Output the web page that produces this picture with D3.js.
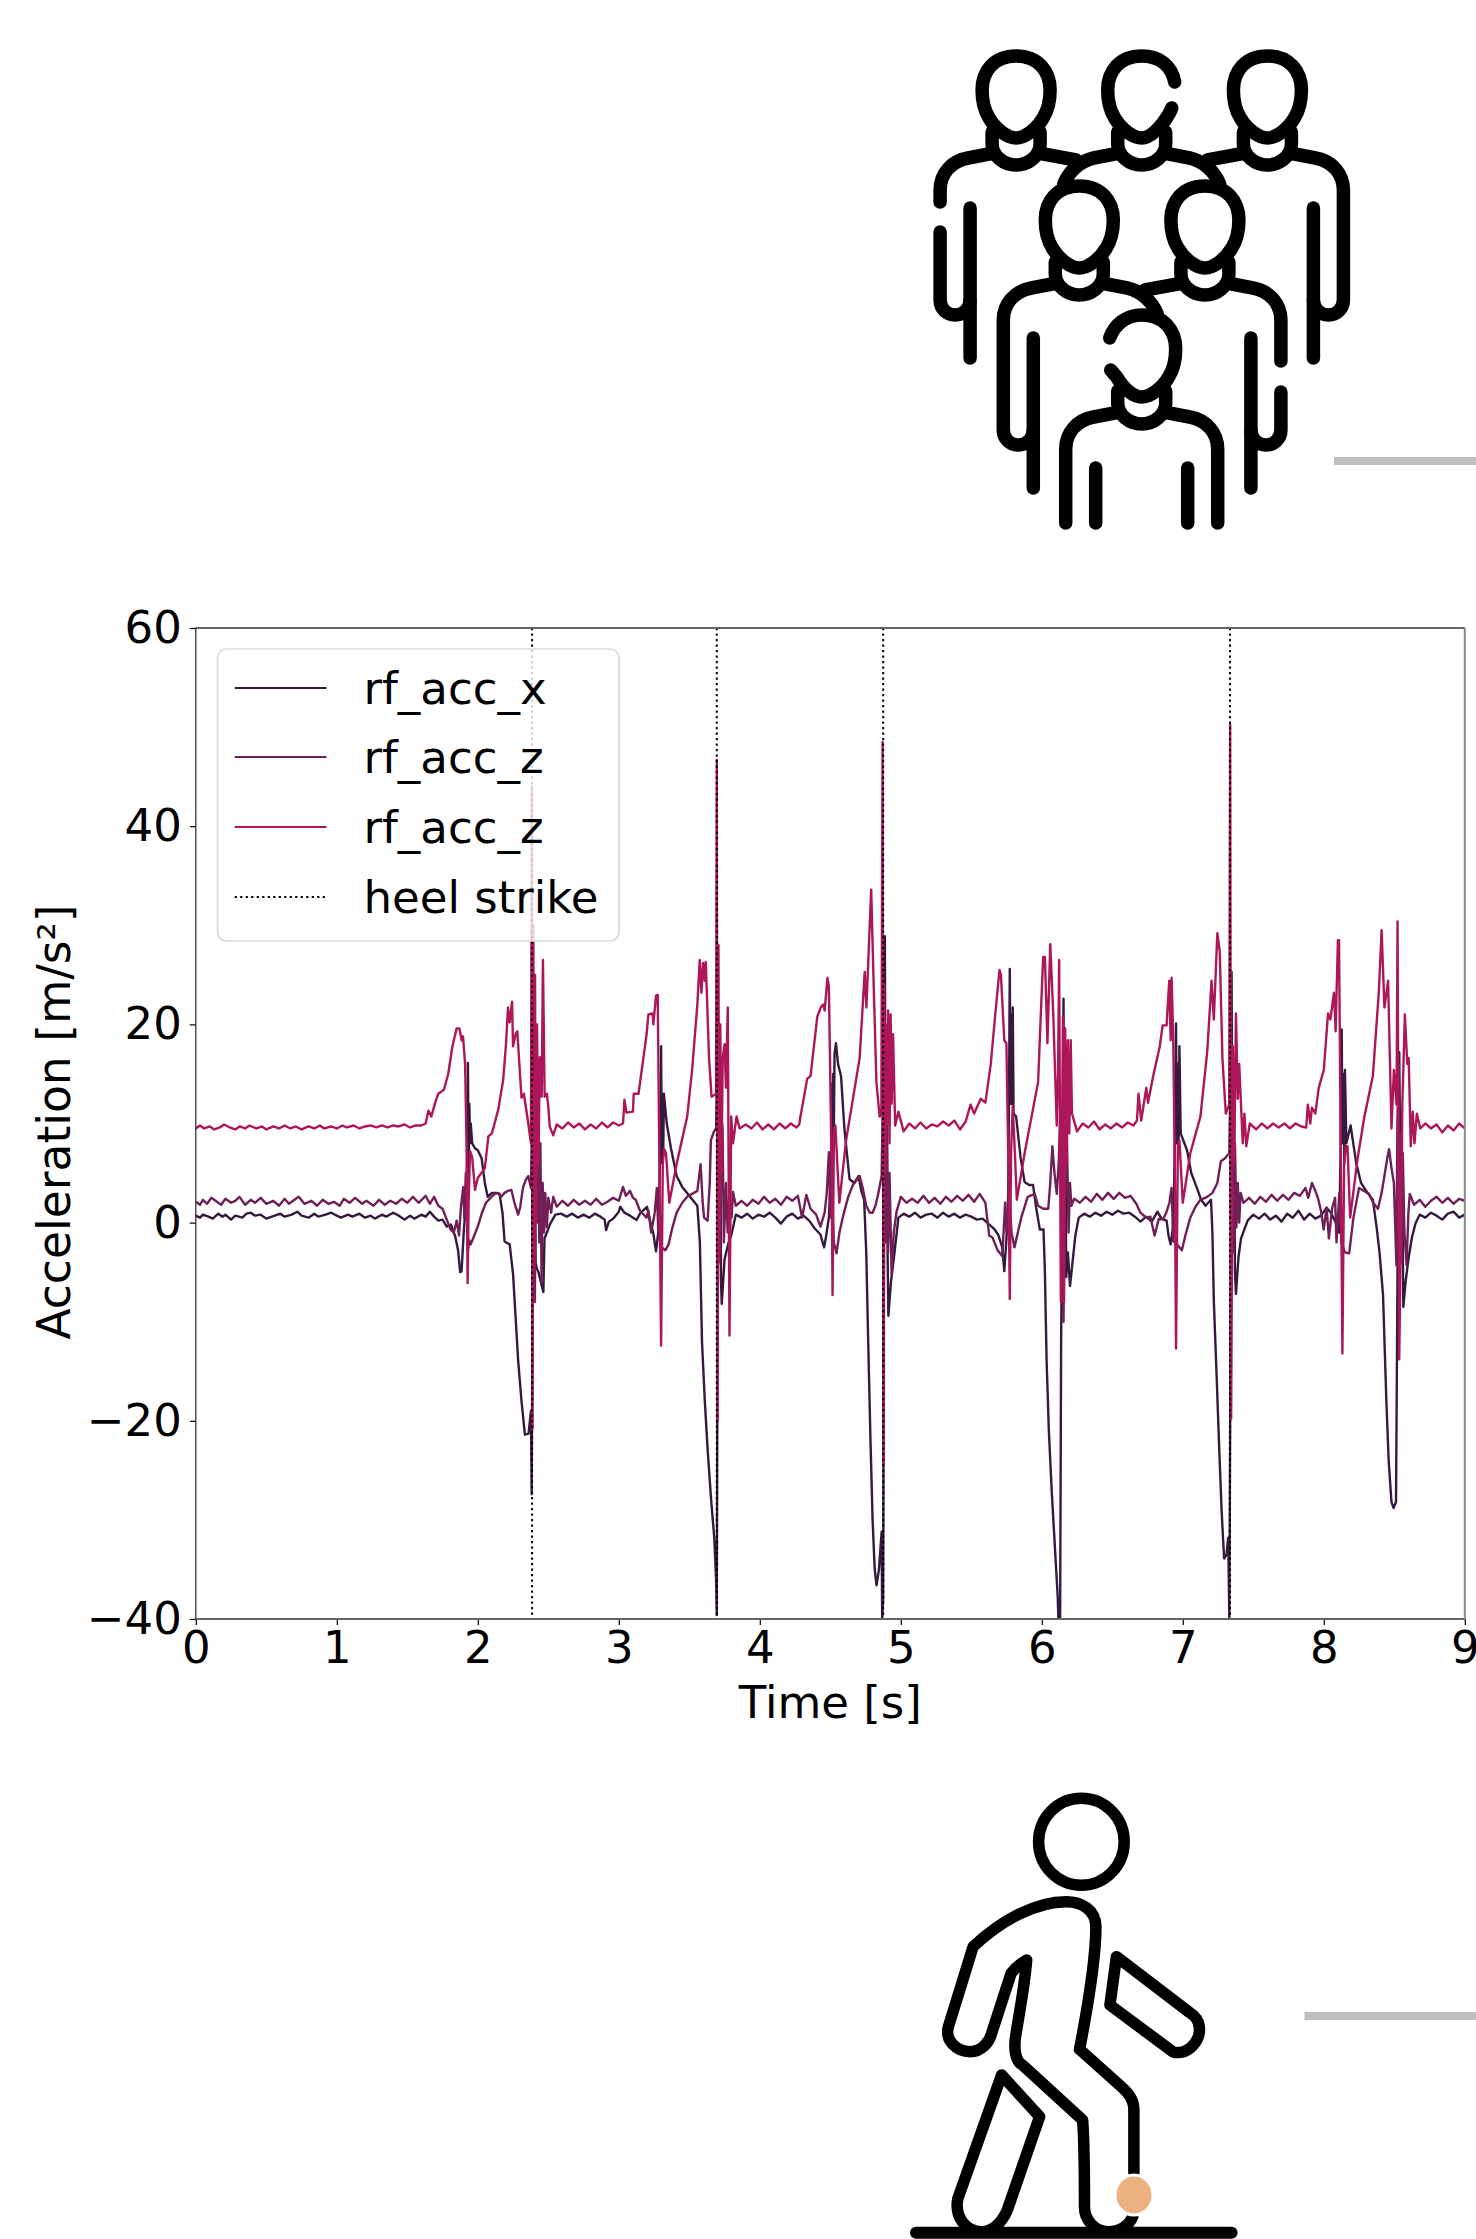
<!DOCTYPE html>
<html><head><meta charset="utf-8">
<script src="https://d3js.org/d3.v7.min.js"></script>
<style>html,body{margin:0;padding:0;background:#fff}svg{display:block}</style>
</head><body><div id="c"></div>
<script>
// ---- data: [time s, acceleration m/s2] ----
const rfAccX = [[0,.7],[.03,.5],[.05,.8],[.09,.6],[.12,.4],[.16,.9],[.19,.6],[.21,.8],[.25,.3],[.28,.7],[.33,.5],[.36,.9],[.39,1],[.42,.7],[.46,.8],[.5,.4],[.56,.7],[.6,.9],[.63,.6],[.68,.8],[.72,1.1],[.75,.7],[.8,.5],[.84,.9],[.87,.6],[.92,.8],[.96,1],[1,.7],[1.03,.5],[1.08,.8],[1.11,.6],[1.16,.9],[1.2,.5],[1.24,.7],[1.27,.4],[1.32,.8],[1.35,.6],[1.4,1],[1.44,.7],[1.48,.3],[1.52,.7],[1.55,.4],[1.6,.8],[1.63,.6],[1.66,1.1],[1.69,.6],[1.72,.2],[1.75,.3],[1.78,-.4],[1.81,-.2],[1.84,-1.4],[1.86,-2.8],[1.875,-5],[1.885,-4.9],[1.9,-1],[1.915,2],[1.925,6],[1.93,16.1],[1.935,4],[1.94,12],[1.945,8],[1.95,10],[1.96,8],[1.98,7.5],[2,7.3],[2.027,6.5],[2.05,4],[2.07,2.6],[2.1,3],[2.13,3],[2.154,2.9],[2.175,1],[2.19,-1.9],[2.226,-2.2],[2.25,-5.2],[2.27,-10],[2.286,-13.9],[2.31,-18],[2.334,-21.4],[2.36,-21.3],[2.377,-19],[2.382,-27.4],[2.388,-10],[2.392,20.3],[2.397,-3],[2.402,15],[2.41,-4],[2.418,-4.6],[2.43,-5],[2.454,-6.4],[2.465,-7],[2.473,-1.6],[2.49,-1],[2.514,-.1],[2.55,.8],[2.59,.9],[2.63,.6],[2.67,.9],[2.71,.5],[2.75,.8],[2.79,.5],[2.83,.9],[2.87,.6],[2.9,.3],[2.91,-.75],[2.93,.1],[2.96,.4],[3,1.1],[3.01,1.6],[3.04,1],[3.08,.7],[3.126,.26],[3.15,.9],[3.2,1.6],[3.22,.3],[3.245,-1.1],[3.264,-2.9],[3.28,-1],[3.295,8],[3.3,17.8],[3.305,6],[3.31,13],[3.315,7],[3.32,13],[3.34,10],[3.37,7.5],[3.41,4.7],[3.45,3.6],[3.5,2.7],[3.557,1.7],[3.575,-2],[3.59,-12],[3.61,-18],[3.63,-22.9],[3.655,-28],[3.677,-31.8],[3.69,-36],[3.695,-39.6],[3.7,-12],[3.706,20],[3.712,-3],[3.718,14],[3.725,-6],[3.73,-8.2],[3.75,-3.7],[3.775,-2.2],[3.797,-1.3],[3.83,.8],[3.87,.5],[3.91,.9],[3.95,.4],[3.99,.8],[4.03,.6],[4.07,1],[4.11,.5],[4.15,-.1],[4.19,.6],[4.23,.9],[4.27,.4],[4.31,.7],[4.35,.2],[4.39,-.6],[4.43,-1.2],[4.456,-2.5],[4.47,-1.4],[4.49,.5],[4.505,5],[4.51,14],[4.515,7],[4.52,15],[4.525,9],[4.53,17],[4.54,18.1],[4.555,16],[4.576,14.8],[4.6,9.5],[4.636,4.4],[4.67,4],[4.7,4.7],[4.72,3.2],[4.74,2.3],[4.755,-3],[4.768,-11.5],[4.785,-22],[4.8,-30],[4.815,-35],[4.828,-36.6],[4.845,-35],[4.864,-31.2],[4.868,-40],[4.875,-38],[4.881,-5],[4.887,28.9],[4.893,2],[4.9,17],[4.907,-4],[4.912,-9.4],[4.93,-6],[4.95,-3.7],[4.983,.5],[5.02,.9],[5.06,.6],[5.1,1],[5.14,.5],[5.18,.8],[5.22,.9],[5.26,.5],[5.3,1],[5.34,.6],[5.38,.9],[5.42,.5],[5.46,.8],[5.5,.6],[5.54,.3],[5.58,.4],[5.62,-.1],[5.66,-.6],[5.69,-1.2],[5.72,-2.5],[5.734,-4.9],[5.75,-1.5],[5.762,3],[5.768,14],[5.773,25.6],[5.778,12],[5.785,21],[5.79,12],[5.794,21.7],[5.8,11],[5.818,10.7],[5.85,6.5],[5.878,4.1],[5.91,3.8],[5.938,3.8],[5.96,1.5],[5.986,-.7],[6.012,-.7],[6.022,-5],[6.034,-13.9],[6.05,-21],[6.07,-27],[6.09,-32],[6.113,-37.8],[6.122,-42],[6.13,-40],[6.137,-12],[6.148,5],[6.154,22.6],[6.16,3],[6.166,14],[6.173,-5.5],[6.185,-3],[6.2,-6.4],[6.238,-1.3],[6.262,.5],[6.3,.9],[6.34,.6],[6.38,1],[6.42,.7],[6.46,1.1],[6.5,.8],[6.54,1.2],[6.58,.9],[6.62,1],[6.66,.6],[6.7,.1],[6.74,.6],[6.78,.1],[6.82,1.1],[6.85,.4],[6.885,.2],[6.9,-1.4],[6.914,-2.2],[6.93,-.5],[6.94,5],[6.947,12],[6.952,20.1],[6.957,8],[6.965,16],[6.97,8],[6.976,17.8],[6.985,9],[7.03,7.3],[7.06,5],[7.1,3.5],[7.13,2.3],[7.161,1.7],[7.2,2.3],[7.21,-1],[7.22,-7.9],[7.24,-15.5],[7.257,-22.3],[7.275,-29],[7.293,-33.9],[7.31,-33.5],[7.322,-31.8],[7.33,-40],[7.336,-20],[7.341,10],[7.346,25.3],[7.352,0],[7.36,14],[7.37,-5],[7.377,-7.2],[7.395,-3.5],[7.413,-1.6],[7.46,.2],[7.5,.8],[7.54,.4],[7.58,.9],[7.62,.3],[7.66,.7],[7.7,.1],[7.74,.9],[7.78,.5],[7.82,1.2],[7.86,.3],[7.9,.9],[7.94,.4],[7.98,.7],[8.02,1.5],[8.05,1],[8.075,.3],[8.096,-.4],[8.11,-1],[8.12,8],[8.127,19.5],[8.132,8],[8.14,15],[8.145,6],[8.15,15.4],[8.16,8],[8.19,9.8],[8.23,6],[8.264,4],[8.31,3],[8.348,2.3],[8.375,-.5],[8.396,-3.1],[8.42,-7.3],[8.444,-18.1],[8.46,-24],[8.48,-28.2],[8.495,-28.8],[8.512,-28.2],[8.516,-20],[8.525,0],[8.535,17.2],[8.545,2],[8.553,10],[8.564,-8.5],[8.58,-6],[8.6,-3.7],[8.625,-1.5],[8.65,-.1],[8.68,.8],[8.72,.5],[8.76,1],[8.8,.7],[8.84,.3],[8.88,.9],[8.92,1.1],[8.96,.5],[9,.8]];

const rfAccZ1 = [[0,2.1],[.03,1.8],[.05,2.3],[.08,1.9],[.11,2.5],[.14,2.2],[.18,1.8],[.21,2.4],[.25,2],[.28,2.2],[.31,2.6],[.35,1.8],[.39,2.3],[.42,2],[.46,2.5],[.5,1.9],[.55,2.2],[.59,1.7],[.63,2.4],[.66,1.9],[.7,2.3],[.73,2.6],[.77,1.9],[.82,2.2],[.86,1.7],[.9,2.3],[.94,1.9],[.98,2.1],[1.02,1.7],[1.05,2.4],[1.09,2],[1.13,2.5],[1.18,1.9],[1.21,2.2],[1.26,1.7],[1.3,2.3],[1.34,1.8],[1.38,2.2],[1.42,1.9],[1.46,2.4],[1.5,2],[1.54,2.6],[1.58,2],[1.63,2.7],[1.66,1.9],[1.69,2.6],[1.72,1.7],[1.75,1.4],[1.78,.3],[1.807,-.7],[1.83,-1],[1.85,.2],[1.867,-1.3],[1.88,1.5],[1.897,3.6],[1.905,.5],[1.915,5],[1.93,-2.8],[1.94,-1.8],[1.95,-2.2],[1.975,-1.3],[2,-.4],[2.03,1],[2.058,2],[2.09,2.5],[2.12,2.9],[2.145,3],[2.166,2.6],[2.19,3],[2.214,3.2],[2.238,3.3],[2.26,2],[2.286,.8],[2.3,1.5],[2.32,3.5],[2.34,4.3],[2.358,4.7],[2.377,3.5],[2.386,12],[2.392,-4],[2.398,15],[2.405,-8],[2.412,16],[2.42,0],[2.428,13],[2.436,-2],[2.444,8],[2.452,-6],[2.46,4],[2.47,-1],[2.478,3],[2.49,-.5],[2.5,2.5],[2.52,1],[2.535,2.6],[2.56,1.6],[2.6,2.2],[2.64,1.7],[2.68,2.3],[2.72,1.8],[2.76,2.2],[2.8,1.8],[2.84,2.4],[2.88,1.8],[2.92,2.1],[2.96,2.5],[3,2.2],[3.03,3.6],[3.05,2.7],[3.08,3.2],[3.1,2.5],[3.12,2.3],[3.15,1.2],[3.197,.5],[3.21,1.2],[3.23,-1],[3.255,1],[3.27,3.5],[3.28,-1],[3.305,-2.5],[3.33,-2.8],[3.353,-2.2],[3.38,-.5],[3.41,1],[3.45,2],[3.485,2.6],[3.52,2.9],[3.557,3.2],[3.58,5.9],[3.595,2],[3.605,.5],[3.63,.2],[3.645,4],[3.653,8.3],[3.675,9.2],[3.69,9.5],[3.697,16],[3.703,-6],[3.71,14],[3.718,-3],[3.725,11],[3.736,9.5],[3.745,-2],[3.76,4],[3.772,-1],[3.785,3],[3.8,.5],[3.81,3.1],[3.83,1.7],[3.87,2.2],[3.91,1.7],[3.95,2.3],[3.99,1.9],[4.03,2.6],[4.07,2],[4.11,2.4],[4.15,1.8],[4.19,2.6],[4.23,2.2],[4.27,2.7],[4.3,.5],[4.33,2.8],[4.36,1.4],[4.4,.8],[4.43,-.4],[4.46,1],[4.475,3],[4.49,7.1],[4.5,.5],[4.51,4],[4.525,-2],[4.544,-3.1],[4.565,-1],[4.588,.5],[4.625,2.5],[4.66,3.8],[4.708,4.7],[4.73,3.5],[4.755,1.7],[4.78,1],[4.8,1],[4.82,1.7],[4.84,2.9],[4.864,4.7],[4.872,12],[4.878,-4],[4.885,14],[4.892,-2],[4.9,10],[4.91,-3],[4.92,5],[4.935,-5.2],[4.95,-1],[4.97,1.1],[5,2.6],[5.04,2],[5.08,2.4],[5.12,2],[5.16,2.7],[5.2,2],[5.24,2.5],[5.28,1.9],[5.32,2.6],[5.36,2.1],[5.4,2.7],[5.44,2.2],[5.48,2.8],[5.52,2.1],[5.56,2.9],[5.6,2],[5.627,-1.3],[5.65,-1.5],[5.687,-2.8],[5.72,-3.4],[5.74,2],[5.75,-1],[5.77,2.9],[5.785,-1],[5.806,-2.5],[5.83,-1],[5.854,.5],[5.9,2.6],[5.95,2.9],[5.974,1.7],[6.01,1.4],[6.046,1.4],[6.06,4],[6.075,7.7],[6.09,5],[6.106,2.9],[6.12,6],[6.13,10.7],[6.14,0],[6.154,-10],[6.165,7],[6.178,8.8],[6.19,-1],[6.2,4],[6.21,1.7],[6.23,2.4],[6.27,2],[6.31,2.6],[6.35,2.1],[6.39,2.9],[6.43,2.3],[6.47,3],[6.51,2.4],[6.55,3],[6.59,2.5],[6.63,2.7],[6.67,1.9],[6.7,1],[6.74,.5],[6.77,.6],[6.8,-1.3],[6.83,.4],[6.86,.3],[6.885,1.1],[6.905,2],[6.92,3.5],[6.933,-1.9],[6.96,-2.2],[6.993,-2.8],[7.02,-1.2],[7.053,.5],[7.09,1.6],[7.125,2.3],[7.173,2.6],[7.21,3],[7.245,4],[7.27,6.2],[7.3,6.5],[7.317,6.8],[7.33,7],[7.337,14],[7.344,-5],[7.352,12],[7.36,-3],[7.37,8],[7.38,-.5],[7.39,4],[7.4,0],[7.41,3],[7.43,2],[7.47,2.5],[7.51,1.9],[7.55,2.6],[7.59,2.1],[7.63,2.8],[7.67,2.2],[7.71,2.8],[7.75,2.3],[7.79,3],[7.83,2.7],[7.87,3.5],[7.89,2.5],[7.916,4],[7.94,3.2],[7.96,2.4],[7.98,1.2],[7.999,-.7],[8.02,1.5],[8.036,-1.6],[8.06,1.5],[8.08,2.5],[8.09,-2],[8.11,3],[8.125,-2],[8.15,-3],[8.18,-3.1],[8.21,.5],[8.25,3.5],[8.32,2.9],[8.35,2],[8.384,1.4],[8.41,3],[8.43,4.7],[8.45,6.5],[8.463,7.4],[8.48,5.5],[8.497,4],[8.515,-4.3],[8.522,10],[8.53,16],[8.538,-2],[8.545,9],[8.553,-4],[8.56,7],[8.572,-1],[8.587,-4.3],[8.6,1],[8.61,2.9],[8.64,1.8],[8.68,2.3],[8.72,1.6],[8.76,2.2],[8.8,2.6],[8.84,2],[8.88,2.5],[8.92,1.9],[8.96,2.4],[9,2.2]];

const rfAccZ2 = [[0,9.5],[.03,9.8],[.06,9.5],[.1,9.7],[.13,9.4],[.17,9.6],[.2,9.9],[.24,9.6],[.28,9.4],[.31,9.7],[.35,9.5],[.38,9.8],[.43,9.5],[.47,9.7],[.5,9.4],[.55,9.7],[.59,9.5],[.63,9.8],[.67,9.5],[.71,9.7],[.75,9.4],[.8,9.7],[.84,9.5],[.88,9.8],[.91,9.5],[.96,9.7],[1,9.5],[1.04,9.8],[1.07,9.6],[1.12,9.8],[1.16,9.5],[1.2,9.7],[1.24,9.8],[1.28,9.6],[1.32,9.8],[1.36,9.6],[1.4,9.8],[1.44,9.7],[1.48,9.9],[1.52,9.6],[1.56,9.8],[1.6,9.8],[1.63,10],[1.65,11.3],[1.67,10.7],[1.7,12.2],[1.72,13],[1.76,13.4],[1.79,15],[1.82,17.8],[1.85,19.6],[1.87,19.6],[1.885,18.4],[1.895,18.8],[1.91,16],[1.92,8],[1.928,-6.1],[1.935,2],[1.945,7.2],[1.96,6.6],[1.98,3.3],[2,4.5],[2.05,5.5],[2.075,8.7],[2.1,9],[2.145,11.4],[2.18,14.4],[2.2,18],[2.214,21.7],[2.226,20.2],[2.243,22.3],[2.25,17.8],[2.268,19],[2.28,19.3],[2.31,12.6],[2.327,13],[2.358,10],[2.377,8],[2.383,44],[2.388,-20.8],[2.394,30],[2.4,-5],[2.406,25],[2.412,0],[2.42,20],[2.43,6],[2.44,16.7],[2.453,12.7],[2.462,26.5],[2.474,12.7],[2.49,13],[2.5,11.7],[2.51,9.7],[2.535,8.8],[2.56,9.9],[2.6,9.5],[2.64,10.1],[2.68,9.6],[2.72,10],[2.76,9.4],[2.8,9.9],[2.84,9.5],[2.88,10.1],[2.92,9.6],[2.96,10.1],[3,9.8],[3.03,10],[3.04,12.4],[3.054,11.1],[3.1,11.2],[3.106,13],[3.14,13],[3.197,19],[3.21,21],[3.24,21.1],[3.245,20],[3.264,22.9],[3.276,23],[3.288,5.9],[3.3,-12.4],[3.312,5.9],[3.322,7.4],[3.335,7],[3.358,2],[3.41,5.9],[3.485,10.7],[3.52,15.4],[3.557,22],[3.574,26.5],[3.586,23.2],[3.598,26.2],[3.61,24.4],[3.617,26.3],[3.64,16.6],[3.658,12.7],[3.69,13],[3.695,46.7],[3.701,-20],[3.707,28],[3.713,-4],[3.72,20],[3.728,5],[3.737,16.6],[3.75,18],[3.76,13.6],[3.773,21.7],[3.785,-11.4],[3.797,10.7],[3.81,8],[3.835,10.7],[3.857,9.5],[3.9,9.9],[3.94,9.5],[3.98,10.1],[4.02,9.4],[4.06,9.9],[4.1,9.4],[4.14,10],[4.18,9.5],[4.22,10],[4.26,9.6],[4.28,9.9],[4.288,10.7],[4.3,11.6],[4.336,14.5],[4.36,14.8],[4.408,20.8],[4.432,21.7],[4.45,22],[4.46,21.4],[4.48,24.7],[4.49,23.8],[4.509,5.9],[4.516,-7.3],[4.526,9.5],[4.536,9.8],[4.564,2],[4.612,8.3],[4.708,16.6],[4.744,25.3],[4.756,21.7],[4.79,33.6],[4.808,23.8],[4.827,14.2],[4.85,10.7],[4.862,11],[4.871,48.5],[4.877,-24.4],[4.883,24],[4.89,5],[4.896,20],[4.905,10],[4.91,21.4],[4.92,8],[4.928,21],[4.935,12],[4.945,19],[4.96,9.8],[4.983,11.2],[5.02,9.2],[5.06,10],[5.1,9.5],[5.14,10.1],[5.18,9.5],[5.22,9.9],[5.26,9.7],[5.3,10.2],[5.34,9.8],[5.38,10.3],[5.42,9.4],[5.46,10.2],[5.495,11.9],[5.52,11],[5.567,12.5],[5.6,12.1],[5.638,16],[5.67,21],[5.7,25.5],[5.71,25],[5.734,18.4],[5.749,18.1],[5.763,5.9],[5.773,-7.7],[5.782,7.1],[5.794,11.8],[5.806,8],[5.823,2.3],[5.878,7],[5.974,14.2],[5.99,20],[6.01,26.8],[6.022,26.8],[6.04,18.1],[6.06,28.1],[6.082,20.8],[6.106,9.8],[6.115,15],[6.123,26.5],[6.135,-8],[6.15,20.8],[6.158,-8],[6.166,19.6],[6.176,5.9],[6.185,18.4],[6.195,9],[6.205,18.4],[6.214,11],[6.25,9.2],[6.29,10],[6.33,9.6],[6.37,10.2],[6.41,9.4],[6.45,9.9],[6.49,9.5],[6.53,10],[6.57,9.6],[6.61,10.1],[6.65,9.8],[6.675,10.3],[6.686,13],[6.705,10.3],[6.741,13.6],[6.753,12.1],[6.79,14.8],[6.837,17.8],[6.857,19.9],[6.885,19.9],[6.904,24.4],[6.914,18.4],[6.921,24.7],[6.933,17.8],[6.943,5.9],[6.952,-12.7],[6.965,7.7],[6.976,8.3],[7,2],[7.053,7],[7.125,10.7],[7.173,17.2],[7.204,24.4],[7.22,20.5],[7.245,29.2],[7.262,27.4],[7.281,16.6],[7.305,11],[7.329,11.9],[7.336,50.3],[7.343,-19.8],[7.355,17.8],[7.365,5.9],[7.377,21.1],[7.39,12.5],[7.4,16],[7.425,8],[7.437,11],[7.45,7.7],[7.475,10],[7.52,9.4],[7.56,10],[7.6,9.5],[7.64,10],[7.68,9.6],[7.72,10],[7.76,9.5],[7.8,10],[7.84,9.7],[7.875,9.6],[7.887,11.9],[7.904,10],[7.916,11.6],[7.94,11],[7.964,13.6],[8,15.4],[8.03,21.1],[8.047,20.5],[8.072,23.2],[8.084,19.3],[8.1,28.5],[8.108,28.5],[8.12,7.7],[8.132,-13.2],[8.144,5.9],[8.156,7.7],[8.168,7.7],[8.187,.5],[8.24,6.5],[8.288,10.7],[8.348,14.8],[8.39,23.2],[8.41,29.5],[8.43,21.7],[8.456,24.4],[8.48,9.5],[8.497,15.4],[8.516,11.9],[8.523,30.4],[8.535,-13.8],[8.557,11.9],[8.575,21],[8.592,16],[8.602,16.6],[8.617,7.7],[8.631,11.2],[8.643,8],[8.66,11],[8.684,9.5],[8.72,10],[8.76,9.5],[8.8,9.9],[8.84,9.1],[8.88,9.8],[8.92,9.3],[8.96,10],[9,9.5]];

const seriesNames = ["rf_acc_x","rf_acc_z","rf_acc_z"];
const seriesColors = ["#35193e","#701f57","#ad1759"];
const heelStrikes = [2.385,3.695,4.875,7.335];
const xTicks = [0,1,2,3,4,5,6,7,8,9];
const yTicks = [-40,-20,0,20,40,60];

const W=1476,H=2239;
const svg=d3.select("#c").append("svg").attr("width",W).attr("height",H).attr("viewBox",`0 0 ${W} ${H}`)
  .style("font-family","'DejaVu Sans'");

// ---- icons ----
function person(g,cx,cy,o){
  const p=g.append("g").attr("transform",`translate(${cx},${cy})`);
  const path=d=>p.append("path").attr("d",d);
  if(o.head==="gapRight") path("M33 26 C30 10 18 0 0 0 C-22 0 -34 15 -34 34 C-34 45 -32 54 -27 62 C-20 74 -8 82 0 82 C8 82 19 72 26 60 C28 57 29 55 30 52");
  else if(o.head==="gapLeft") path("M-32 23 C-27 9 -15 0 0 0 C22 0 34 15 34 34 C34 45 32 54 27 62 C20 74 8 82 0 82 C-8 82 -18 74 -25 62 C-28 59 -30 56 -31 55");
  else path("M0 0 C22 0 34 15 34 34 C34 45 32 54 27 62 C20 74 8 82 0 82 C-8 82 -20 74 -27 62 C-32 54 -34 45 -34 34 C-34 15 -22 0 0 0Z");
  path("M-24 76 L-24 88 C-24 100 -12 109 0 109 C12 109 24 100 24 88 L24 76");
  (o.left||[]).forEach(path);(o.right||[]).forEach(path);
}
const icons=svg.append("g").attr("fill","none").attr("stroke","#000").attr("stroke-width",13.5).attr("stroke-linecap","round").attr("stroke-linejoin","round");
const shL="M-22 97 L-48 102 C-65 105 -76 118 -76 134";
const shR="M22 97 L48 102 C65 105 76 118 76 134";
person(icons,1016.1,56,{left:[shL+" L-76 146","M-76 176 L-76 244 C-76 253 -69 259 -61 259 C-53 259 -46 253 -46 244","M-46 152 L-46 302"],right:["M22 97 L60 104"]});
person(icons,1141.7,56,{head:"gapRight",left:["M-22 97 L-48 102 C-62 105 -73 116 -78 128"],right:["M22 97 L48 102 C62 105 73 116 78 128"]});
person(icons,1267.4,56,{left:["M-22 97 L-60 104"],right:[shR+" L76 244 C76 253 69 259 61 259 C53 259 46 253 46 244","M46 152 L46 302"]});
person(icons,1079.3,186,{left:[shL+" L-76 244 C-76 253 -69 259 -61 259 C-53 259 -46 253 -46 244","M-46 152 L-46 302"],right:["M22 97 L48 102 C62 105 73 116 78 128"]});
person(icons,1204.9,186,{left:["M-22 97 L-60 104"],right:[shR+" L76 175","M76 206 L76 244 C76 253 69 259 61 259 C53 259 46 253 46 244","M46 152 L46 302"]});
person(icons,1141.7,315,{head:"gapLeft",left:[shL+" L-76 208","M-46 153 L-46 208"],right:[shR+" L76 208","M46 153 L46 208"]});
svg.append("rect").attr("x",1334).attr("y",457).attr("width",142).attr("height",8).attr("fill","#bfbfbf");
svg.append("rect").attr("x",1304.5).attr("y",2012).attr("width",171.5).attr("height",8).attr("fill","#bfbfbf");

const walker=svg.append("g").attr("transform","translate(880,1770) scale(0.38008,0.33333)")
  .attr("fill","none").attr("stroke","#000").attr("stroke-linejoin","round").attr("stroke-linecap","round");
[
 "M525 838 C545 720 568 560 568 470 C568 420 530 395 490 395 C410 395 320 450 245 530 L180 770 C170 810 200 845 238 845 C265 845 288 820 295 785 L345 610 C355 595 370 580 386 570 C380 650 368 720 358 790 C350 840 358 875 375 885 L533 1050 C538 1120 538 1220 538 1310 C538 1350 565 1385 600 1385 C635 1385 655 1365 665 1340",
 "M668 1208 L668 1020 C668 985 650 965 630 945 L525 838",
 "M622 560 L605 705 L770 845 C810 860 845 810 840 770 C838 750 825 735 815 728 Z",
 "M320 915 L420 1040 L335 1320 C320 1360 295 1385 268 1385 C225 1385 195 1340 205 1285 Z"
].forEach(d=>walker.append("path").attr("d",d).attr("vector-effect","non-scaling-stroke").attr("stroke-width",11.5));
svg.append("ellipse").attr("cx",1081.4).attr("cy",1841.7).attr("rx",42.8).attr("ry",43.5).attr("fill","none").attr("stroke","#000").attr("stroke-width",11.5);
svg.append("line").attr("x1",916).attr("x2",1231.6).attr("y1",2232.7).attr("y2",2232.7).attr("stroke","#000").attr("stroke-width",12).attr("stroke-linecap","round");
svg.append("ellipse").attr("cx",1134).attr("cy",2195).attr("rx",19).attr("ry",20).attr("fill","#ecb181").attr("stroke","#fff").attr("stroke-width",3);

// ---- chart ----
const L=195.8,R=1464.8,T=628,B=1619;
const x=d3.scaleLinear().domain([0,9]).range([L,R]);
const y=d3.scaleLinear().domain([-40,60]).range([B,T]);
svg.append("defs").append("clipPath").attr("id","plot").append("rect").attr("x",L).attr("y",T).attr("width",R-L).attr("height",B-T);
const line=d3.line().x(d=>x(d[0])).y(d=>y(d[1]));
const plot=svg.append("g").attr("clip-path","url(#plot)");
[rfAccX,rfAccZ1,rfAccZ2].forEach((s,i)=>{
  plot.append("path").datum(s).attr("d",line).attr("fill","none").attr("stroke",seriesColors[i]).attr("stroke-width",2.4).attr("stroke-linejoin","round");
});
plot.selectAll("line.hs").data(heelStrikes).join("line").attr("class","hs")
  .attr("x1",d=>x(d)).attr("x2",d=>x(d)).attr("y1",T).attr("y2",B)
  .attr("stroke","#000").attr("stroke-width",2).attr("stroke-dasharray","2.2 3.3");

const fs=45;
const gx=svg.append("g").attr("transform",`translate(0,${B})`).call(d3.axisBottom(x).tickValues(xTicks).tickSize(6).tickPadding(6).tickFormat(d3.format("d")));
const gy=svg.append("g").attr("transform",`translate(${L},0)`).call(d3.axisLeft(y).tickValues(yTicks).tickSize(6).tickPadding(8).tickFormat(d3.format("d")));
[gx,gy].forEach(g=>{g.select(".domain").remove();g.attr("font-family","'DejaVu Sans'").attr("font-size",fs);
  g.selectAll("text").attr("fill","#000");g.selectAll("line").attr("stroke","#000").attr("stroke-width",1.2);});
const spines=[[L,T,R,T,"#666",2],[L,B,R,B,"#666",2],[R,T,R,B,"#888",2],[L,T,L,B,"#222",1.2]];
svg.selectAll("line.sp").data(spines).join("line").attr("class","sp")
  .attr("x1",d=>d[0]).attr("y1",d=>d[1]).attr("x2",d=>d[2]).attr("y2",d=>d[3]).attr("stroke",d=>d[4]).attr("stroke-width",d=>d[5]);
svg.append("text").attr("x",(L+R)/2).attr("y",1718).attr("text-anchor","middle").attr("font-size",fs).attr("fill","#000").text("Time [s]");
svg.append("text").attr("transform","translate(70,1122) rotate(-90)").attr("text-anchor","middle").attr("font-size",45.6).attr("fill","#000").text("Acceleration [m/s²]");

// ---- legend ----
const lg=svg.append("g");
lg.append("rect").attr("x",217.5).attr("y",649).attr("width",401.5).attr("height",292).attr("rx",9).attr("fill","#fff").attr("fill-opacity",.8).attr("stroke","#d9d9d9").attr("stroke-width",1.6);
const legendRows=[...seriesNames,"heel strike"];
const ly=[688,757,827,897];
legendRows.forEach((t,i)=>{
  const ln=lg.append("line").attr("x1",234.7).attr("x2",326.5).attr("y1",ly[i]).attr("y2",ly[i]).attr("stroke-width",2.2);
  if(i<3) ln.attr("stroke",seriesColors[i]); else ln.attr("stroke","#000").attr("stroke-dasharray","2.2 3.3");
  lg.append("text").attr("x",363.5).attr("y",ly[i]+15.5).attr("font-size",fs).attr("fill","#000").text(t);
});
</script></body></html>
